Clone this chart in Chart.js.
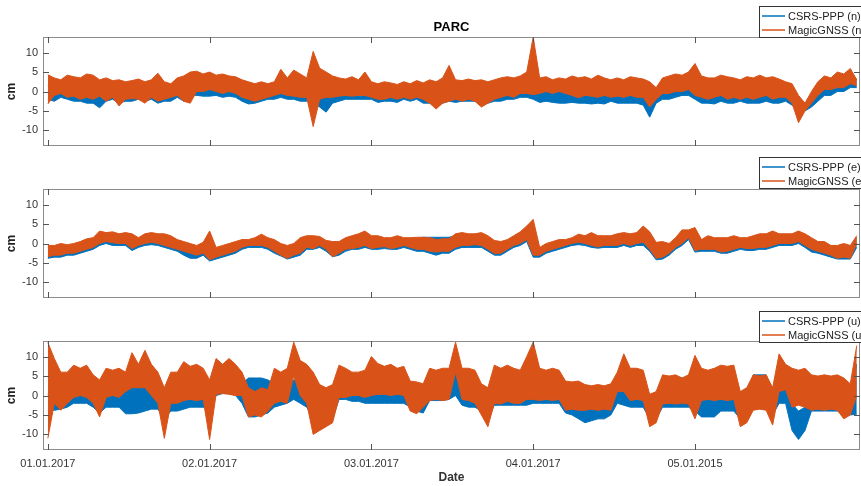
<!DOCTYPE html>
<html>
<head>
<meta charset="utf-8">
<script src="https://cdn.jsdelivr.net/npm/chart.js@4.4.1/dist/chart.umd.min.js"></script>
<style>
    html, body { margin: 0; padding: 0; background: #fff; }
    #wrap { position: relative; width: 861px; height: 486px; overflow: hidden; }
    canvas { position: absolute; left: 0; }
</style>
</head>
<body>
<div id="wrap">
    <canvas id="panelN" width="861" height="160" style="top:0px"></canvas>
    <canvas id="panelE" width="861" height="160" style="top:150px"></canvas>
    <canvas id="panelU" width="861" height="186" style="top:300px"></canvas>
</div>
<script>
const sampleStep = 0.04;
const xTicks = [0, 1, 2, 3, 4];
const xTickLabels = ["01.01.2017", "02.01.2017", "03.01.2017", "04.01.2017", "05.01.2015"];
const yTicks = [-10, -5, 0, 5, 10];

// north (cm)
const csrsNHi = [1.5,1,1,1.5,1.2, 1,0.5,0.5,0.5,1, 0.5,1,1,0.5,1, 0.5,2,1,0.5,0.5, 1.5,2,3.4,3,2.5,
    2.5,2,1.5,1.5,1, 0.5,0.5,0.5,0.5,0.5, 1,2,1.5,2,1.5, 1.5,1,1,0.5,1.5, 1.5,1.5,1,1,1,
    1,0.5,0.5,0.5,0.5, 1,1,1,1,1.5, 1,1.5,1,1,1, 1,0.5,1,1,1, 1,1.5,1.5,2,2.5,
    2.5,1,0.5,0.5,0.5, 1,0.5,0.5,0.5,1, 1.3,0.5,0.5,0.5,1, 1,1,0.5,-1,0, 1,1,1.5,1.5,2.5,
    3,1,0.5,0.5,0.5, 0.5,0.5,0.5,0.5,0.5, 0.5,0.5,0.5,0.5,0, 0,-2,-3,-2,0, 2,2,3,3,5.5,3];
const csrsNLo = [-2,-2.5,-1.5,-2,-2.5, -2.5,-3,-3,-4.2,-2.5, -2,-3,-2.5,-2.5,-2, -2.5,-2,-3,-2.5,-2.5, -1.5,-2.5,-1,-1,-1.2,
    -1.2,-1,-1.5,-1.2,-1.5, -2.5,-3.2,-3,-2.5,-2, -2,-1.5,-2,-2,-2.5, -2.5,-3,-4,-5.3,-3, -2.5,-2,-2,-2,-2,
    -2,-2.8,-2.5,-2.5,-2.8, -2,-2.5,-2,-3,-3, -3.5,-3,-2.5,-2.8,-2.5, -2.5,-2.5,-3.5,-3,-2.5, -2.5,-2,-2,-1.5,-1.5,
    -2,-2.8,-2.5,-2.8,-3, -3,-2.8,-3,-3,-3.2, -3,-3.2,-2.5,-3,-3, -3,-3,-3.5,-6.6,-3, -2,-2,-1.5,-1,-1,
    -2,-3,-3,-3.2,-2.5, -3,-3,-2.5,-3,-3, -3,-2.5,-3,-3,-2.5, -3.5,-5.3,-5,-4,-2.5, -1,-1,0,0,1,1];
const magicNHi = [4.3,3.5,3,4.2,3.8, 3.5,4.5,4.2,3,3.5, 2.8,3,2.5,2.8,3.2, 2.5,3,4.7,2.5,2, 3.5,4,5,5.2,4.5,
    5,4.2,4.5,4,3.8, 3,2.5,2,2.5,2, 2.5,5.7,3.5,5.5,4.5, 3.5,10.3,6,5,4, 3.5,3.2,3.8,3,5,
    2.5,2,2.5,2.2,1.8, 2.5,2,2.8,2.2,3, 2.5,3.5,6.7,3,2.8, 3.2,2.8,3,2.5,3, 3.5,3.8,3.5,4,5,
    14,3.5,3.8,3,3.5, 3.2,4,3.5,3.8,3.2, 4.2,3.5,3,3.5,3, 3.8,3.5,3.2,2.5,1, 3.5,4,4.5,4.2,5,
    7.2,4,3.5,3.5,4.2, 3.8,3.5,3,3.8,3.5, 4.2,3.5,3.8,3.2,2.5, 2,-1,-3,0,2.5, 4,3.5,5,4.5,5.9,3];
const magicNLo = [-3.2,-1,-0.5,-1.5,-1.2, -2,-1.5,-2,-1.2,-2.5, -1.5,-3.7,-2,-1.8,-2, -3,-1.5,-2.5,-2,-1.5, -1,-2.5,-3,0,0,
    0.5,0,-0.5,0,-0.5, -1.5,-2,-2.5,-2,-1.5, -1,-0.5,-1,-1.2,-1.5, -1.5,-9,-2,-1.5,-1.5, -1.2,-1,-1.2,-1,-1,
    -1.5,-2,-2,-1.5,-2, -1.5,-2,-1.5,-2,-3, -4.5,-3,-2.5,-2,-2.5, -2,-2.5,-4,-3,-2, -1.5,-1,-1.5,-0.5,-0.5,
    -0.8,-0.5,0,-0.5,0, -0.5,-1,-1.6,-1,-1.2, -1.5,-1,-1.5,-1.2,-1.5, -1,-1.5,-1.5,-4,-2, -0.5,-0.5,0,0,0.5,
    -1,-1.5,-2,-1.5,-1, -2,-1.5,-2,-1.5,-2, -1.5,-1,-2,-1.5,-1.5, -3,-8,-5,-3,-1, 0.5,0.5,1,1,2,1.5];

// east (cm)
const csrsEHi = [-1,-1,-0.5,-0.8,-0.5, 0,0.8,1,2.8,2.5, 2.5,2,2.2,2,1, 2,2.2,2,1.8,1.5, 0.5,0,-0.5,-1,0,
    2.8,-1.5,-1,-0.5,0, 0.5,0.5,1,1.8,1, 0.5,-0.5,-1,-0.5,1, 1.5,1.5,1.2,0.3,0, 0,1,1.5,2,2.5,
    1.5,1.5,1,1,1.5, 1,1,1.2,1.6,1.6, 1.6,1.6,1.6,2,2, 2,2,2,1.5,0, 0,0.5,1.5,2.5,3.5,
    4.5,-1.5,-0.5,0,0.5, 0.5,1,1.8,1.5,2.2, 1.5,1.5,1.5,2,2.2, 2,2.2,3.5,2,-0.5, -0.5,-0.5,1,3,3,
    3.5,0.5,1.5,1,1, 1,1.5,1,1,1.5, 2,2,2.5,2,2, 2,2.5,1.5,0.5,0, 0,-1,-1,-0.5,-1,1.5];
const csrsELo = [-3.8,-3.5,-3.5,-3,-3, -2.5,-2,-1.5,-0.5,0, -0.5,-0.5,-0.5,-1.8,-1, -0.5,-0.3,-0.5,-1,-1.5, -2,-3,-3.8,-3.8,-3,
    -4.5,-4,-3.5,-3,-2.5, -1.5,-1,-1,-1,-1.5, -2.5,-3.2,-4,-3.5,-3, -1.5,-1.5,-1,-2,-3.4, -3,-2,-1.5,-1.5,-1,
    -1.5,-1.5,-1.3,-1.5,-1.5, -1,-1.5,-2,-2,-2.5, -3,-2.5,-2.5,-1.5,-1, -1,-1,-1,-2,-3, -3,-2,-1,-0.5,0.5,
    -3.5,-3.5,-2.5,-2,-1.5, -1,-0.5,-0.3,-0.5,-1, -1.2,-1,-1,-1,-0.5, -1,-0.5,-0.5,-2,-4.2, -4,-3,-1.5,-0.5,1,
    -2.2,-2,-2,-2,-2.5, -2.5,-2,-1.5,-1.8,-1.8, -1.5,-1.5,-1,-0.5,-0.5, -0.5,0,-1,-2.2,-2.5, -3,-3.5,-4,-4,-4,-1];
const magicEHi = [-0.5,-0.5,0,-0.3,0, 0.5,1.2,1.5,3.2,2.8, 3,2.5,2.8,2.5,1.5, 2.5,2.8,2.5,2.5,2, 1,0.5,0,-0.5,0.3,
    3.2,-1,-0.5,0,0.5, 1,1,1.5,2.4,1.5, 1,0,-0.5,0,1.5, 2,2,1.8,0.8,0.5, 0.5,1.5,2,2.5,3.2,
    2,2,1.5,1.5,2, 1.5,1.5,1.6,1.6,1.5, 1,1.2,1.2,2.5,2.8, 2.5,2.5,2.8,2,0.8, 0.5,1,2,3,4.5,
    6.2,-1,0,0.5,1, 1,1.5,2.4,2,2.8, 2,2,2,2.5,2.8, 2.5,2.8,4.5,3,0.3, 0.5,0,1.5,3.5,3.5,
    4.1,1,2,1.5,1.5, 1.5,2,1.5,1.5,2, 2.5,2.5,3.2,2.5,2.5, 2.5,3.2,2.5,1.5,0.5, 0.5,-0.5,-0.5,0,-0.5,2];
const magicELo = [-3.4,-3,-3,-2.5,-2.5, -2,-1.5,-1,0,0.5, 0.2,0,0,-1.3,-0.5, 0,0.3,0,-0.5,-1, -1.5,-2,-2.5,-3,-2.5,
    -4.2,-3.5,-3,-2.5,-2, -1,-0.5,-0.5,-0.5,-1, -2,-3,-3.8,-3,-2.5, -1,-1.3,-0.5,-1.5,-3.4, -2.5,-1.5,-1.3,-1,-0.5,
    -1.3,-1,-0.8,-1.3,-1, -0.5,-1,-1.5,-1.5,-2, -2.2,-2,-2,-1,-0.5, -0.5,-0.3,-0.5,-1.5,-2.6, -2.5,-1.5,-0.5,0,1,
    -3,-3,-2,-1.5,-1, -0.5,0,0.3,0,-0.5, -0.9,-0.5,-0.5,-0.5,0, -0.5,0,0.3,-1.5,-3.8, -3.5,-2.5,-1,0,1.5,
    -1.8,-1.5,-1.5,-1.5,-2.2, -2,-1.5,-1,-1.3,-1.3, -1,-1,-0.5,0,0, 0,0.5,-0.5,-1.5,-2, -2.5,-3,-3.8,-3.5,-3.8,0];

// up (cm)
const csrsUHi = [0.3,3,3.5,4,4.5, 4.5,4.5,3,3,4, 4,4,4.5,4.5,4.5, 4.5,4,3,0,2, 2,3,4,5,5,
    3,6,6,5,4.5, 3,4.5,4.5,4.5,4, 3,3,3,4,4, 3,1,0,-0.5,0, 3,3,4,4,4,
    4,2,2,2,2, 2,1,0,-1,3.5, 4,4,4,8,3, 2,2,1,-1,4, 4,4,4,4,4,
    4.5,4,4,4,4, 2,2,2,2,2, 2,2,2,2,3, 2,2,2,0,0, 4.5,4.5,4.5,4.5,4,
    3,2,2,2,4.5, 4.5,4.5,0,0,5.3, 5.3,5.3,1,3,2, -2.2,-4,-3,3.5,3.5, 3.5,3.5,3.5,2,0,8];
const csrsULo = [-3.8,-3.8,-3.5,-3,-2, -2,-2,-3,-4.5,-3, -3,-3,-4.7,-4.7,-4.5, -4,-3.5,-3.5,-6,-4, -4,-3.5,-3,-3,-3,
    -4,0,0.5,0.5,0, -2,-5.5,-5.5,-5,-4.5, -3,-2.5,-2,-1,-2, -3,-6,-7,-7.5,-6, -1,-1,-1.5,-1.5,-2,
    -2,-2,-2,-2,-2, -2,-3,-4,-4.5,-1.3, -1.3,-1.3,-1,0,-2.5, -3,-3,-4,-6,-2.5, -2.5,-2.5,-2.5,-2.5,-2.5,
    -2,-2,-2,-2,-2, -4.5,-5,-6,-7,-6.5, -6,-6,-5,-2,-2.5, -3,-3,-3,-6,-6, -3,-3,-3,-3,-3,
    -4,-5.5,-5.5,-5.5,-4, -4,-4,-6,-6,-2.5, -2.5,-2.5,-5,-2,-2, -9,-11.3,-9,-4,-4, -4,-4,-4,-5,-5,-4.8];
const magicUHi = [13.6,9.5,6,6,7.8, 7,7.8,5.3,4,7, 6.5,7,6,11,8, 11.6,8,6,2,6, 6,8.7,7.5,8,7,
    4,9.5,8,9.5,8, 6,2,1,2,1.5, 7,6,7,13.7,9, 8,6,2.8,2,2.8, 7.8,7,6,6,6.5,
    10,8.2,7.5,8,7, 7.5,3.7,3.5,3,7, 6.5,7,7,13.7,7, 7,6.5,3,2,7.8, 7,7.8,7,6.5,10,
    13.7,7,6.5,7,6.5, 3.7,3.5,3.7,2.8,2.5, 2.8,2.5,3,6,10.7, 7,7,6.5,0.3,1, 5.3,5,5.3,4.5,5.3,
    10.3,7,6.5,7,7.8, 7.5,7.8,1,2,5.3, 5,5.3,2,10.7,8, 7,6.5,7,5.3,5, 5.3,5,5.3,4.5,3,12.8];
const magicULo = [-11,-2,-3.8,-2,-0.5, 0,-0.5,-2,-5.5,-0.5, 0,-0.5,1,2,2, 2,0,-2,-11,-2, -2,-1.3,-1,-1.3,-1,
    -11.3,0.3,0.5,0.3,0, 0,-5.5,-5,-5.5,-4, -2,-1.5,-2,5,0, -2,-10,-9,-8,-7, -0.5,-0.5,0,0,-0.5,
    0,0.3,0.3,0,0.3, 0,-4,-4.7,-3,-1.3, -1,-1.3,-1,6,-1, -1.3,-2,-5,-8,-2, -2.2,-1.5,-2,-2,-1,
    -1,-1.3,-1,-1.3,-1, -3.8,-3.5,-3.8,-3.8,-3.5, -3.8,-3.5,-3.8,1,1, -1.3,-1,-1.3,-8,-7, -2.2,-2,-2.2,-2,-2.2,
    -6,-1.3,-1,-1.3,-1, -1.3,-1,-8,-7,-3.8, -3.5,-3.8,-7.6,1,1.5, -3,-2.5,-3,-3.8,-3.5, -3.8,-3.5,-3.8,-6,-5,0];

const BLUE = "#0072BD";
const ORANGE = "#D95319";
const FONT = "'Liberation Sans', Arial, sans-serif";

function toPoints(vals) {
    return vals.map((v, i) => ({ x: +(i * sampleStep).toFixed(2), y: v }));
}

// box, inward ticks, legend and title like the matlab figure
const matlabAxes = {
    id: "matlabAxes",
    afterDatasetsDraw(chart) {
        const { ctx, chartArea: a, scales: { x, y } } = chart;
        ctx.save();
        ctx.strokeStyle = "#8c8c8c";
        ctx.lineWidth = 1;
        ctx.strokeRect(a.left + 0.5, a.top + 0.5, a.right - a.left - 1, a.bottom - a.top - 1);
        ctx.strokeStyle = "#555";
        ctx.beginPath();
        yTicks.forEach(v => {
            const py = Math.round(y.getPixelForValue(v)) + 0.5;
            ctx.moveTo(a.left, py); ctx.lineTo(a.left + 6, py);
            ctx.moveTo(a.right, py); ctx.lineTo(a.right - 6, py);
        });
        xTicks.forEach(v => {
            const px = Math.round(x.getPixelForValue(v)) + 0.5;
            ctx.moveTo(px, a.top); ctx.lineTo(px, a.top + 6);
            ctx.moveTo(px, a.bottom); ctx.lineTo(px, a.bottom - 6);
        });
        ctx.stroke();
        ctx.restore();
    },
    afterDraw(chart, args, o) {
        const { ctx, chartArea: a } = chart;
        ctx.save();
        if (o.title) {
            ctx.fillStyle = "#000";
            ctx.font = "bold 13px " + FONT;
            ctx.textAlign = "center";
            ctx.textBaseline = "middle";
            ctx.fillText(o.title, (a.left + a.right) / 2, o.titleY);
        }
        const bx = 759.5, by = o.legendTop + 0.5;
        ctx.fillStyle = "#fff";
        ctx.fillRect(bx, by, 861 - bx, 31);
        ctx.strokeStyle = "#333";
        ctx.lineWidth = 1;
        ctx.strokeRect(bx, by, 861 - bx + 2, 31);
        ctx.font = "11px " + FONT;
        ctx.textAlign = "left";
        ctx.textBaseline = "middle";
        o.entries.forEach((e, i) => {
            const ry = o.legendTop + 10 + i * 14;
            ctx.strokeStyle = e.color;
            ctx.lineWidth = 1.5;
            ctx.beginPath();
            ctx.moveTo(762, ry); ctx.lineTo(785, ry);
            ctx.stroke();
            ctx.fillStyle = "#222";
            ctx.fillText(e.label, 788, ry + 0.5);
        });
        ctx.restore();
    }
};

// each series is drawn as its noisy band: top edge, bottom edge and the fill between them
function band(hi, lo, color, firstIndex, order) {
    return [
        { data: toPoints(hi), borderColor: color, fill: false, order: order + 1 },
        { data: toPoints(lo), borderColor: color, backgroundColor: color, fill: firstIndex, order: order }
    ];
}

function makePanel(id, blueHi, blueLo, orangeHi, orangeLo, comp, opts) {
    const ctx = document.getElementById(id).getContext("2d");
    const showX = !!opts.showX;
    return new Chart(ctx, {
        type: "line",
        data: {
            datasets: [
                ...band(blueHi, blueLo, BLUE, 0, 3),
                ...band(orangeHi, orangeLo, ORANGE, 2, 1)
            ]
        },
        options: {
            responsive: false,
            animation: false,
            devicePixelRatio: 1,
            elements: {
                line: { borderWidth: 1, tension: 0 },
                point: { radius: 0 }
            },
            layout: { padding: { top: opts.top, bottom: opts.bottom, left: 0, right: 1 } },
            plugins: {
                legend: { display: false },
                tooltip: { enabled: false },
                filler: { propagate: false },
                matlabAxes: {
                    legendTop: opts.legendTop,
                    title: opts.title,
                    titleY: opts.titleY,
                    entries: [
                        { label: "CSRS-PPP (" + comp + ")", color: BLUE },
                        { label: "MagicGNSS (" + comp + ")", color: ORANGE }
                    ]
                }
            },
            scales: {
                x: {
                    type: "linear",
                    min: -0.03,
                    max: 5.02,
                    display: showX,
                    grid: { display: false, drawTicks: false },
                    border: { display: false },
                    afterBuildTicks: s => { s.ticks = xTicks.map(v => ({ value: v })); },
                    afterFit: s => { if (showX) s.height = 36; },
                    ticks: {
                        autoSkip: false,
                        maxRotation: 0,
                        padding: 7,
                        color: "#333",
                        font: { family: FONT, size: 11 },
                        callback: v => xTickLabels[xTicks.indexOf(v)]
                    },
                    title: {
                        display: showX,
                        text: "Date",
                        color: "#333",
                        font: { family: FONT, size: 12, weight: "bold" },
                        padding: { top: 0, bottom: 1 }
                    }
                },
                y: {
                    min: -14,
                    max: 14,
                    grid: { display: false, drawTicks: false },
                    border: { display: false },
                    afterBuildTicks: s => { s.ticks = yTicks.map(v => ({ value: v })); },
                    afterFit: s => { s.width = 43; },
                    ticks: {
                        padding: 5,
                        color: "#333",
                        font: { family: FONT, size: 11 }
                    },
                    title: {
                        display: true,
                        text: "cm",
                        color: "#222",
                        font: { family: FONT, size: 12, weight: "bold" },
                        padding: { top: 4, bottom: 0 }
                    }
                }
            }
        },
        plugins: [matlabAxes]
    });
}

makePanel("panelN", csrsNHi, csrsNLo, magicNHi, magicNLo, "n", { top: 37, bottom: 14, legendTop: 6, title: "PARC", titleY: 27 });
makePanel("panelE", csrsEHi, csrsELo, magicEHi, magicELo, "e", { top: 39, bottom: 12, legendTop: 7 });
makePanel("panelU", csrsUHi, csrsULo, magicUHi, magicULo, "u", { top: 41, bottom: 0, legendTop: 11, showX: true });
</script>
</body>
</html>
